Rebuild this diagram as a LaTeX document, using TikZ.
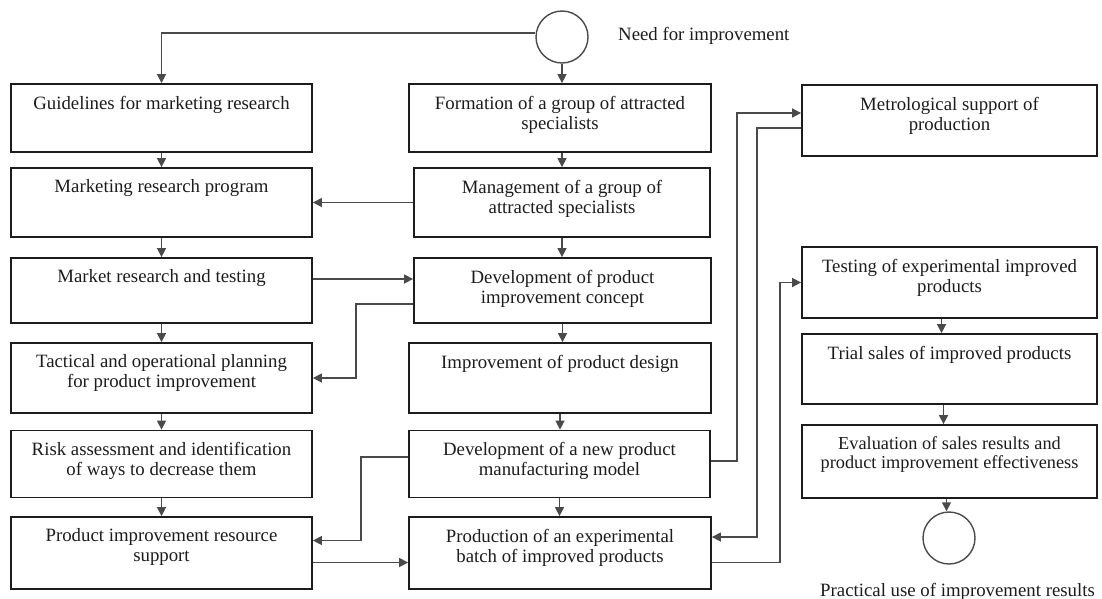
\documentclass[tikz,border=0pt]{standalone}
\usepackage{fontspec}
\setmainfont{Liberation Serif}
\usetikzlibrary{arrows.meta}
\definecolor{boxcol}{HTML}{1C1C1C}
\definecolor{linecol}{HTML}{4A4A4A}
\begin{document}
\begin{tikzpicture}[x=1pt,y=-1pt,
  box/.style={draw=boxcol,line width=1.8pt,inner sep=0pt,minimum width=#1,minimum height=68pt},
  box/.default=301pt,
  txt/.style={anchor=north,inner sep=0pt,align=center,text=boxcol,font=\fontsize{18.8}{20}\selectfont},
  lbl/.style={inner sep=0pt,text=boxcol,font=\fontsize{18.8}{20}\selectfont},
  arr/.style={draw=linecol,line width=1.5pt,-{Triangle[length=9pt,width=9pt]}},
  circ/.style={draw=linecol,line width=1.4pt,circle,minimum size=52pt,inner sep=0pt}]
\useasboundingbox (0,0) rectangle (1102,598);
% circles
\node[circ] (start) at (562,37) {};
\node[circ] (finish) at (949,538) {};
\node[lbl,anchor=base west] (needtxt) at (618,40) {Need for improvement};
\node[lbl,anchor=base west] (practxt) at (820,596) {Practical use of improvement results};
% left column
\node[box,minimum height=68pt] (L1) at (161.5,118) {};
\node[box,minimum height=69pt] (L2) at (161.5,202.5) {};
\node[box,minimum height=65pt] (L3) at (161.5,290.5) {};
\node[box,minimum height=70pt] (L4) at (161.5,378) {};
\node[box,minimum height=67pt] (L5) at (161.5,464) {};
\node[box,minimum height=72pt] (L6) at (161.5,553) {};
% center column
\node[box=302pt,minimum height=68pt] (C1) at (560,118) {};
\node[box=296pt,minimum height=69pt] (C2) at (562,202.5) {};
\node[box=297pt,minimum height=65pt] (C3) at (562.5,290.5) {};
\node[box=302pt,minimum height=70pt] (C4) at (560,378) {};
\node[box=301pt,minimum height=67pt] (C5) at (559.5,464) {};
\node[box=302pt,minimum height=72pt] (C6) at (560,553) {};
% right column
\node[box=295pt,minimum height=71pt] (R1) at (949.5,120.5) {};
\node[box=295pt,minimum height=71pt] (R2) at (949.5,282.5) {};
\node[box=295pt,minimum height=70pt] (R3) at (949.5,369) {};
\node[box=295pt,minimum height=73pt] (R4) at (949.5,461.5) {};
% texts
\node[txt] (tL1) at ([yshift=-12.5pt]L1.north) {Guidelines for marketing research};
\node[txt] (tL2) at ([yshift=-12.5pt]L2.north) {Marketing research program};
\node[txt] (tL3) at ([yshift=-12.5pt]L3.north) {Market research and testing};
\node[txt] (tL4) at ([yshift=-12.5pt]L4.north) {Tactical and operational planning\\for product improvement};
\node[txt] (tL5) at ([yshift=-12.5pt]L5.north) {Risk assessment and identification\\of ways to decrease them};
\node[txt] (tL6) at ([yshift=-12.5pt]L6.north) {Product improvement resource\\support};
\node[txt] (tC1) at ([yshift=-12.5pt]C1.north) {Formation of a group of attracted\\specialists};
\node[txt] (tC2) at ([yshift=-12.5pt]C2.north) {Management of a group of\\attracted specialists};
\node[txt] (tC3) at ([yshift=-12.5pt]C3.north) {Development of product\\improvement concept};
\node[txt] (tC4) at ([yshift=-12.5pt]C4.north) {Improvement of product design};
\node[txt] (tC5) at ([yshift=-12.5pt]C5.north) {Development of a new product\\manufacturing model};
\node[txt] (tC6) at ([yshift=-12.5pt]C6.north) {Production of an experimental\\batch of improved products};
\node[txt] (tR1) at ([yshift=-12.5pt]R1.north) {Metrological support of\\production};
\node[txt] (tR2) at ([yshift=-12.5pt]R2.north) {Testing of experimental improved\\products};
\node[txt] (tR3) at ([yshift=-12.5pt]R3.north) {Trial sales of improved products};
\node[txt,font=\fontsize{18.3}{19}\selectfont] (tR4) at ([yshift=-12.5pt]R4.north) {Evaluation of sales results and\\product improvement effectiveness};
% connectors from start
\draw[arr] ([yshift=4pt]start.west) -| (L1.north);
\draw[arr] (start.south) -- (start.south |- C1.north);
% left column chain
\draw[arr] (L1.south) -- (L1.south |- L2.north);
\draw[arr] (L2.south) -- (L2.south |- L3.north);
\draw[arr] (L3.south) -- (L3.south |- L4.north);
\draw[arr] (L4.south) -- (L4.south |- L5.north);
\draw[arr] (L5.south) -- (L5.south |- L6.north);
% center column chain
\draw[arr] (C2.north |- C1.south) -- (C2.north);
\draw[arr] (C2.south) -- (C2.south |- C3.north);
\draw[arr] (C3.south) -- (C3.south |- C4.north);
\draw[arr] (C4.south) -- (C4.south |- C5.north);
\draw[arr] (C5.south) -- (C5.south |- C6.north);
% right column chain
\draw[arr] ([xshift=-8pt]R2.south) -- ([xshift=-8pt]R2.south |- R3.north);
\draw[arr] ([xshift=-6pt]R3.south) -- ([xshift=-6pt]R3.south |- R4.north);
\draw[arr] ([xshift=-3pt]R4.south) -- ([xshift=-3pt]R4.south |- finish.north);
% cross links
\draw[arr] (C2.west) -- (C2.west -| L2.east);
\draw[arr] ([yshift=11.5pt]L3.east) -- ([yshift=11.5pt]L3.east -| C3.west);
\draw[arr] ([yshift=-13.5pt]C3.west) -- ++(-57,0) |- (L4.east);
\draw[arr] ([yshift=7pt]C5.west) -- ++(-47,0) |- ([yshift=12.5pt]L6.east);
\draw[arr] ([yshift=-9.5pt]L6.east) -- ([yshift=-9.5pt]L6.east -| C6.west);
\draw[arr] ([yshift=3pt]C5.east) -- ++(26,0) |- ([yshift=7.5pt]R1.west);
\draw[arr] ([yshift=-7.5pt]R1.west) -- ++(-44,0) |- ([yshift=16pt]C6.east);
\draw[arr] ([yshift=-9.5pt]C6.east) -- ++(68,0) |- (R2.west);
\end{tikzpicture}
\end{document}
